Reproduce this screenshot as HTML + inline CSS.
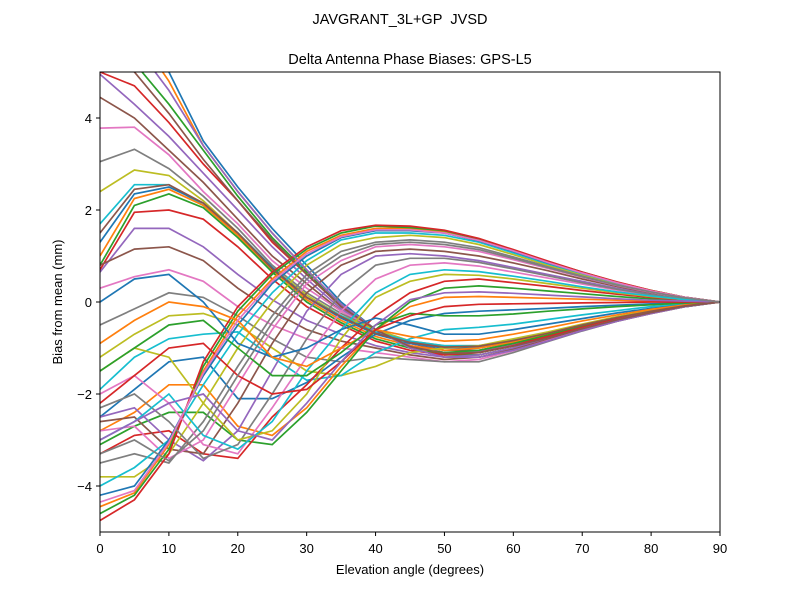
<!DOCTYPE html>
<html><head><meta charset="utf-8"><style>
body{margin:0;background:#fff}
svg text{font-family:"Liberation Sans","DejaVu Sans",sans-serif;fill:#000}
</style></head><body>
<svg id="chart" width="800" height="600" xmlns="http://www.w3.org/2000/svg">
<text x="400" y="24" font-size="14.5" text-anchor="middle">JAVGRANT_3L+GP&#160; JVSD</text>
<text x="410" y="64" font-size="14.5" text-anchor="middle">Delta Antenna Phase Biases: GPS-L5</text>
<defs><clipPath id="clip"><rect x="100" y="72" width="620" height="460"/></clipPath></defs>
<g id="lines" clip-path="url(#clip)"></g>
<rect x="100" y="72" width="620" height="460" fill="none" stroke="#000" stroke-width="1"/>
<g id="axes"></g>
<text x="410" y="574" font-size="13" text-anchor="middle">Elevation angle (degrees)</text>
<text x="0" y="0" font-size="13" text-anchor="middle" transform="translate(62,302) rotate(-90)">Bias from mean (mm)</text>
</svg>
<script>
const elevations=[0,5,10,15,20,25,30,35,40,45,50,55,60,65,70,75,80,85,90];
const xTicks=[0,10,20,30,40,50,60,70,80,90];
const yTicks=[-4,-2,0,2,4];
const s01=[7.5,6.3,5.0,3.5,2.5,1.6,0.8,0,-0.6,-1.0,-1.2,-1.2,-1.05,-0.85,-0.62,-0.42,-0.25,-0.1,0];
const s02=[6.8,5.9,4.8,3.4,2.4,1.5,0.7,-0.05,-0.6,-1.0,-1.2,-1.2,-1.05,-0.85,-0.62,-0.42,-0.25,-0.1,0];
const s03=[5.6,5.2,4.3,3.3,2.3,1.4,0.65,-0.1,-0.6,-1.0,-1.15,-1.15,-1.0,-0.8,-0.6,-0.4,-0.24,-0.1,0];
const s04=[5.0,4.7,3.9,3.0,2.2,1.3,0.6,-0.1,-0.6,-0.95,-1.1,-1.1,-0.95,-0.78,-0.58,-0.39,-0.23,-0.09,0];
const s05=[4.95,4.3,3.6,2.8,2.0,1.2,0.5,-0.15,-0.6,-0.95,-1.1,-1.08,-0.93,-0.76,-0.56,-0.38,-0.22,-0.09,0];
const s06=[4.45,4.0,3.3,2.6,1.8,1.0,0.4,-0.2,-0.6,-0.9,-1.05,-1.05,-0.9,-0.74,-0.55,-0.37,-0.22,-0.09,0];
const s07=[3.78,3.8,3.2,2.4,1.7,0.9,0.3,-0.2,-0.6,-0.9,-1.0,-1.0,-0.88,-0.72,-0.53,-0.36,-0.21,-0.08,0];
const s08=[3.05,3.32,2.9,2.3,1.6,0.8,0.2,-0.25,-0.6,-0.85,-1.0,-0.98,-0.86,-0.7,-0.52,-0.35,-0.2,-0.08,0];
const s09=[2.4,2.87,2.75,2.2,1.5,0.75,0.15,-0.3,-0.6,-0.85,-0.95,-0.95,-0.84,-0.68,-0.5,-0.34,-0.2,-0.08,0];
const s10=[1.7,2.55,2.55,2.1,1.5,0.7,0.1,-0.3,-0.65,-0.85,-0.95,-0.95,-0.83,-0.67,-0.5,-0.34,-0.2,-0.08,0];
const s11=[1.3,2.35,2.5,2.15,1.5,0.75,0.1,-0.35,-0.7,-0.9,-1.0,-0.97,-0.85,-0.68,-0.5,-0.34,-0.2,-0.08,0];
const s12=[1.0,2.25,2.45,2.1,1.45,0.7,0.05,-0.4,-0.75,-0.95,-1.05,-1.0,-0.87,-0.7,-0.52,-0.35,-0.2,-0.08,0];
const s13=[0.8,2.1,2.35,2.05,1.4,0.65,0.0,-0.45,-0.8,-1.0,-1.1,-1.05,-0.9,-0.72,-0.53,-0.36,-0.21,-0.08,0];
const s14=[0.7,1.95,2.0,1.8,1.2,0.5,-0.1,-0.5,-0.85,-1.05,-1.15,-1.1,-0.95,-0.75,-0.55,-0.37,-0.21,-0.08,0];
const s15=[0.65,1.6,1.6,1.2,0.6,0.05,-0.4,-0.7,-0.95,-1.1,-1.2,-1.15,-1.0,-0.8,-0.58,-0.39,-0.22,-0.09,0];
const s16=[0.8,1.15,1.2,0.9,0.3,-0.2,-0.6,-0.85,-1.0,-1.15,-1.25,-1.2,-1.03,-0.82,-0.6,-0.4,-0.23,-0.09,0];
const s17=[0.3,0.55,0.7,0.45,-0.1,-0.5,-0.8,-1.0,-1.1,-1.2,-1.3,-1.25,-1.06,-0.84,-0.62,-0.41,-0.24,-0.09,0];
const s18=[-0.5,-0.15,0.2,0.1,-0.3,-0.8,-1.2,-1.3,-1.2,-1.25,-1.3,-1.3,-1.1,-0.86,-0.63,-0.42,-0.24,-0.1,0];
const s19=[-1.2,-0.7,-0.3,-0.25,-0.5,-1.0,-1.5,-1.6,-1.4,-1.1,-1.0,-0.95,-0.8,-0.65,-0.48,-0.32,-0.18,-0.07,0];
const s20=[-1.9,-1.2,-0.8,-0.7,-0.65,-1.2,-1.7,-1.6,-1.1,-0.8,-0.6,-0.55,-0.48,-0.38,-0.28,-0.19,-0.1,-0.04,0];
const s21=[-2.5,-1.9,-1.3,-1.2,-2.1,-2.1,-1.75,-1.2,-0.7,-0.4,-0.25,-0.2,-0.17,-0.14,-0.1,-0.07,-0.04,-0.02,0];
const s22=[-2.8,-2.4,-1.8,-1.8,-2.7,-2.9,-2.3,-1.4,-0.6,-0.1,0.1,0.12,0.1,0.08,0.06,0.04,0.02,0.01,0];
const s23=[-3.1,-2.7,-2.4,-2.4,-3.0,-3.1,-2.4,-1.5,-0.6,0.0,0.3,0.35,0.3,0.24,0.18,0.12,0.07,0.03,0];
const s24=[-3.3,-2.9,-2.8,-3.3,-3.4,-2.5,-1.8,-1.0,-0.3,0.2,0.45,0.5,0.42,0.34,0.25,0.17,0.1,0.04,0];
const s25=[-2.5,-2.3,-3.0,-3.45,-2.8,-1.5,-0.2,0.6,1.0,1.05,1.0,0.9,0.75,0.6,0.45,0.3,0.18,0.07,0];
const s26=[-2.6,-2.5,-3.2,-3.3,-2.2,-0.9,0.2,0.8,1.1,1.15,1.1,1.0,0.85,0.68,0.5,0.34,0.2,0.08,0];
const s27=[-2.8,-2.7,-3.4,-3.0,-1.8,-0.6,0.4,0.9,1.2,1.25,1.2,1.1,0.92,0.73,0.54,0.36,0.21,0.08,0];
const s28=[-3.5,-3.3,-3.5,-2.6,-1.4,-0.3,0.6,1.1,1.3,1.35,1.3,1.18,0.98,0.77,0.57,0.38,0.22,0.09,0];
const s29=[-3.8,-3.8,-3.3,-2.2,-1.0,0.0,0.8,1.25,1.4,1.45,1.4,1.25,1.03,0.8,0.6,0.4,0.23,0.09,0];
const s30=[-4.0,-3.6,-3.0,-1.8,-0.7,0.2,0.9,1.35,1.5,1.5,1.45,1.3,1.07,0.83,0.62,0.41,0.24,0.1,0];
const s31=[-4.2,-4.0,-3.0,-1.6,-0.5,0.4,1.0,1.4,1.55,1.55,1.5,1.33,1.1,0.85,0.63,0.42,0.24,0.1,0];
const s32=[-4.45,-4.15,-3.1,-1.5,-0.3,0.5,1.1,1.45,1.6,1.6,1.52,1.35,1.12,0.87,0.64,0.43,0.25,0.1,0];
const s33=[-4.6,-4.2,-3.2,-1.4,-0.2,0.6,1.15,1.5,1.65,1.62,1.55,1.37,1.13,0.88,0.65,0.43,0.25,0.1,0];
const s34=[-4.75,-4.3,-3.3,-1.3,-0.1,0.65,1.2,1.55,1.67,1.65,1.56,1.38,1.14,0.89,0.65,0.44,0.25,0.1,0];
const s35=[6.0,5.6,4.6,3.4,2.4,1.5,0.7,-0.05,-0.6,-1.0,-1.2,-1.2,-1.05,-0.85,-0.62,-0.42,-0.25,-0.1,0];
const s36=[5.3,5.0,4.1,3.1,2.2,1.35,0.6,-0.1,-0.6,-0.97,-1.12,-1.1,-0.96,-0.78,-0.58,-0.39,-0.23,-0.09,0];
const s37=[-2.0,-1.6,-2.2,-3.1,-3.3,-2.3,-1.2,-0.2,0.5,0.8,0.85,0.78,0.65,0.52,0.39,0.26,0.15,0.06,0];
const s38=[-2.3,-2.0,-2.6,-3.4,-3.1,-2.0,-0.8,0.2,0.8,0.95,0.95,0.86,0.72,0.57,0.42,0.28,0.16,0.06,0];
const s39=[-1.5,-1.0,-1.2,-2.2,-3.0,-2.8,-2.0,-0.8,0.1,0.45,0.6,0.58,0.5,0.4,0.3,0.2,0.12,0.05,0];
const s40=[-3.0,-2.6,-2.0,-2.9,-3.2,-2.6,-1.5,-0.6,0.2,0.6,0.7,0.66,0.56,0.45,0.33,0.22,0.13,0.05,0];
const s41=[0.0,0.5,0.6,0.0,-0.9,-1.2,-1.0,-0.6,-0.35,-0.5,-0.7,-0.7,-0.6,-0.48,-0.36,-0.24,-0.14,-0.06,0];
const s42=[-0.9,-0.4,0.0,-0.1,-0.4,-1.2,-1.4,-1.0,-0.6,-0.75,-0.85,-0.82,-0.7,-0.56,-0.41,-0.28,-0.16,-0.06,0];
const s43=[-1.5,-1.0,-0.5,-0.4,-1.0,-1.6,-1.6,-1.1,-0.5,-0.25,-0.3,-0.3,-0.26,-0.2,-0.15,-0.1,-0.06,-0.02,0];
const s44=[-2.2,-1.6,-1.0,-0.9,-1.6,-2.0,-1.9,-1.3,-0.6,-0.3,-0.1,-0.05,-0.04,-0.03,-0.02,-0.01,0,0,0];
const s45=[-3.0,-2.6,-2.2,-2.0,-2.8,-3.0,-2.2,-1.3,-0.5,0.05,0.2,0.22,0.19,0.15,0.11,0.07,0.04,0.02,0];
const s46=[1.5,2.45,2.55,2.15,1.5,0.72,0.1,-0.32,-0.68,-0.88,-0.98,-0.96,-0.84,-0.68,-0.5,-0.34,-0.2,-0.08,0];
const s47=[-4.35,-4.1,-3.05,-1.55,-0.4,0.45,1.05,1.42,1.57,1.57,1.5,1.34,1.11,0.86,0.63,0.42,0.24,0.1,0];
const s48=[-3.3,-3.0,-3.45,-2.8,-1.6,-0.45,0.5,1.0,1.25,1.3,1.25,1.14,0.95,0.75,0.55,0.37,0.22,0.09,0];
const series=[s01,s02,s03,s04,s05,s06,s07,s08,s09,s10,s11,s12,s13,s14,s15,s16,s17,s18,s19,s20,s21,s22,s23,s24,s25,s26,s27,s28,s29,s30,s31,s32,s33,s34,s35,s36,s37,s38,s39,s40,s41,s42,s43,s44,s45,s46,s47,s48];
const colors=['#1f77b4','#ff7f0e','#2ca02c','#d62728','#9467bd','#8c564b','#e377c2','#7f7f7f','#bcbd22','#17becf'];
const NS='http://www.w3.org/2000/svg';
function xs(v){return 100+v/90*620;}
function ys(v){return 302-v*46;}
const g=document.getElementById('lines');
series.forEach((s,i)=>{
  const p=document.createElementNS(NS,'polyline');
  
  
  p.setAttribute('points',s.map((v,j)=>xs(elevations[j]).toFixed(1)+','+ys(v).toFixed(1)).join(' '));
  p.setAttribute('fill','none');
  p.setAttribute('stroke',colors[i%10]);
  p.setAttribute('stroke-width','1.7');
  g.appendChild(p);
});
const ax=document.getElementById('axes');
xTicks.forEach(t=>{
  const l=document.createElementNS(NS,'line');
  
  
  l.setAttribute('x1',xs(t));l.setAttribute('x2',xs(t));l.setAttribute('y1',532);l.setAttribute('y2',536);l.setAttribute('stroke','#000');
  ax.appendChild(l);
  const tx=document.createElementNS(NS,'text');
  
  
  tx.setAttribute('x',xs(t));tx.setAttribute('y',553);tx.setAttribute('font-size','13');tx.setAttribute('text-anchor','middle');
  tx.textContent=t;ax.appendChild(tx);
});
yTicks.forEach(t=>{
  const l=document.createElementNS(NS,'line');
  
  
  l.setAttribute('x1',96);l.setAttribute('x2',100);l.setAttribute('y1',ys(t));l.setAttribute('y2',ys(t));l.setAttribute('stroke','#000');
  ax.appendChild(l);
  const tx=document.createElementNS(NS,'text');
  
  
  tx.setAttribute('x',92);tx.setAttribute('y',ys(t)+5);tx.setAttribute('font-size','13');tx.setAttribute('text-anchor','end');
  tx.textContent=t<0?'\u2212'+Math.abs(t):t;ax.appendChild(tx);
});
</script>
</body></html>
